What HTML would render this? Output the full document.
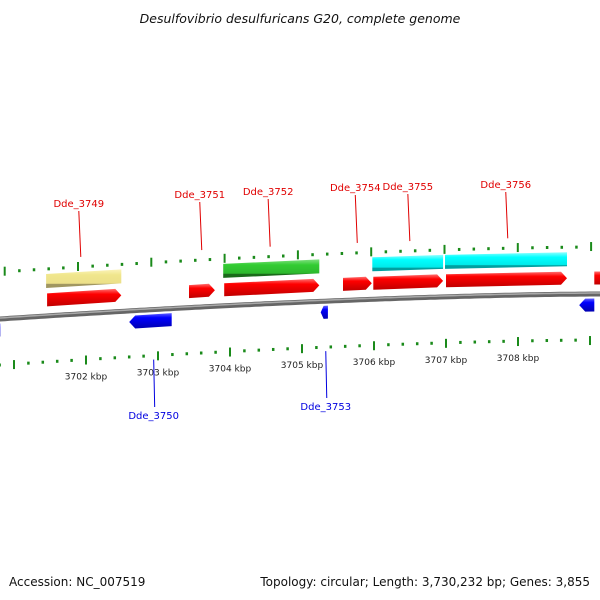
<!DOCTYPE html>
<html><head><meta charset="utf-8"><style>
html,body{margin:0;padding:0;background:#fff}
svg{display:block;font-family:"DejaVu Sans","Liberation Sans",sans-serif}
</style></head><body>
<svg id="chart" width="600" height="600" viewBox="0 0 600 600">
<defs>
<linearGradient id="gRed" x1="0" y1="0" x2="0" y2="1"><stop offset="0" stop-color="#ff7070"/><stop offset="0.3" stop-color="#ff0000"/><stop offset="1" stop-color="#c00000"/></linearGradient>
<linearGradient id="gBlue" x1="0" y1="0" x2="0" y2="1"><stop offset="0" stop-color="#6060ff"/><stop offset="0.3" stop-color="#0000ff"/><stop offset="1" stop-color="#0000b0"/></linearGradient>
<linearGradient id="gGreen" x1="0" y1="0" x2="0" y2="1"><stop offset="0" stop-color="#80e080"/><stop offset="0.3" stop-color="#33cc33"/><stop offset="0.75" stop-color="#2eb82e"/><stop offset="0.8" stop-color="#1a6a1a"/><stop offset="1" stop-color="#1a6a1a"/></linearGradient>
<linearGradient id="gCyan" x1="0" y1="0" x2="0" y2="1"><stop offset="0" stop-color="#90ffff"/><stop offset="0.3" stop-color="#00ffff"/><stop offset="0.75" stop-color="#00eaea"/><stop offset="0.8" stop-color="#00a0a0"/><stop offset="1" stop-color="#00a0a0"/></linearGradient>
<linearGradient id="gYellow" x1="0" y1="0" x2="0" y2="1"><stop offset="0" stop-color="#fbf3b8"/><stop offset="0.3" stop-color="#f0e68c"/><stop offset="0.75" stop-color="#ece08a"/><stop offset="0.8" stop-color="#a09660"/><stop offset="1" stop-color="#a09660"/></linearGradient>
</defs>
<text x="300" y="23" font-size="12.5" font-style="italic" text-anchor="middle" fill="#111">Desulfovibrio desulfuricans G20, complete genome</text>
<text x="9" y="586" font-size="12" fill="#111">Accession: NC_007519</text>
<text x="590" y="586" font-size="12" fill="#111" text-anchor="end">Topology: circular; Length: 3,730,232 bp; Genes: 3,855</text>
<g id="layer"></g>
</svg>
<script>
// data (kbp)
const tickLabels = [3702,3703,3704,3705,3706,3707,3708];
const fwdStart = [3701.46,3703.43,3703.92,3705.57,3705.99,3707.00,3709.06];
const fwdEnd   = [3702.49,3703.79,3705.24,3705.97,3706.96,3708.68,3709.20];
const fwdNames = ["Dde_3749","Dde_3751","Dde_3752","Dde_3754","Dde_3755","Dde_3756",""];
const fwdExtra = ["yellow","","green","","cyan","cyan",""];
const revStart = [3700.70,3702.60,3705.26,3708.85];
const revEnd   = [3700.81,3703.19,3705.36,3709.06];
const revNames = ["","Dde_3750","Dde_3753",""];
const labelNames = ["Dde_3749","Dde_3750","Dde_3751","Dde_3752","Dde_3753","Dde_3754","Dde_3755","Dde_3756"];
const labelKbp   = [3701.90,3702.94,3703.58,3704.53,3705.33,3705.74,3706.47,3707.83];
const labelY     = [207,419,198,195,410,191,190,188];

const NS="http://www.w3.org/2000/svg";
const layer=document.getElementById('layer');
function X(k){return 86+(k-3702)*72;}
function B(x){const t=Math.max(0,(600-x)/600);return 294+25*Math.pow(t,1.6);}
function mk(tag,attrs){const e=document.createElementNS(NS,tag);for(const k in attrs)e.setAttribute(k,attrs[k]);layer.appendChild(e);return e;}

let pts=[];for(let x=-5;x<=605;x+=5)pts.push(x+','+B(x).toFixed(1));
let bb=mk('polyline',{points:pts.join(' '),fill:'none',stroke:'#666','stroke-width':5});


let bb2=mk('polyline',{points:pts.join(' '),fill:'none',stroke:'#aaa','stroke-width':1.5,transform:'translate(0,-1)'});



for(let i=-6;i<=50;i++){
  const k=3701+i*0.2;
  const major=Math.abs(k-Math.round(k))<0.01;
  const xu=78+(k-3702)*73.3, yu=B(xu)-47;
  if(xu>-2&&xu<602){
    let t=mk('line',{x1:xu,x2:xu,y1:yu-(major?5:1.5),y2:yu+(major?4:1.5),stroke:'#1a8a1a','stroke-width':major?2:2.5});
    
    
  }
  const xl=X(k), yl=B(xl)+46;
  if(xl>-2&&xl<602){
    let t=mk('line',{x1:xl,x2:xl,y1:yl-(major?4:1.5),y2:yl+(major?5:1.5),stroke:'#1a8a1a','stroke-width':major?2:2.5});
    
    
  }
}
tickLabels.forEach(k=>{
  const x=X(k);
  let t=mk('text',{x:x,y:B(x)+66,'font-size':9,'text-anchor':'middle',fill:'#222'});
  t.textContent=k+' kbp';
  
  
});

function gene(x1,x2,off,h,fill,dir){
  const y1=B(x1)+off,y2=B(x2)+off,a=Math.min(6,(x2-x1)*0.4);
  let p;
  if(dir>0)p=[[x1,y1-h/2],[x2-a,y2-h/2],[x2,y2],[x2-a,y2+h/2],[x1,y1+h/2]];
  else if(dir<0)p=[[x1+a,y1-h/2],[x2,y2-h/2],[x2,y2+h/2],[x1+a,y1+h/2],[x1,y1]];
  else p=[[x1,y1-h/2],[x2,y2-h/2],[x2,y2+h/2],[x1,y1+h/2]];
  return mk('polygon',{points:p.map(q=>q[0].toFixed(1)+','+q[1].toFixed(1)).join(' '),fill:fill});
}
const extraFill={yellow:'url(#gYellow)',green:'url(#gGreen)',cyan:'url(#gCyan)'};
fwdStart.forEach((s,i)=>{
  const x1=X(s),x2=X(fwdEnd[i]);
  let g=gene(x1,x2,-16,13,'url(#gRed)',1);
  
  
  if(fwdExtra[i]){
    let e=gene(x1-1,x2,-35,14,extraFill[fwdExtra[i]],0);
    
    
  }
});
revStart.forEach((s,i)=>{
  const x1=X(s),x2=X(revEnd[i]);
  let g=gene(x1,x2,11,13,'url(#gBlue)',-1);
  
  
});
labelNames.forEach((n,i)=>{
  const x=X(labelKbp[i]),up=labelY[i]<300;
  const col=up?'#e00000':'#0000e0';
  let l=mk('line',{x1:x,x2:x+(up?2:1),y1:up?labelY[i]+4:B(x)+50,y2:up?B(x)-57:labelY[i]-12,stroke:col,'stroke-width':1});
  
  
  let t=mk('text',{x:x,y:labelY[i],'font-size':10,'text-anchor':'middle',fill:col});
  t.textContent=n;
  
  
});
</script>
</body></html>
